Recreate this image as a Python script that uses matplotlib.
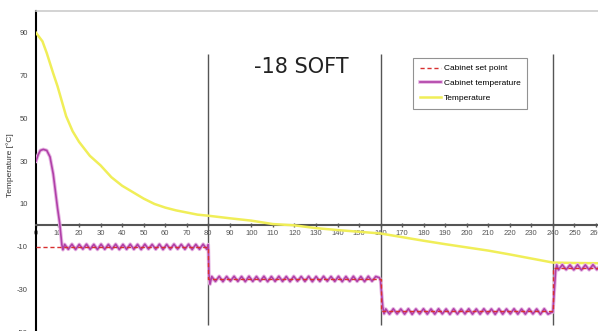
import numpy as np
import matplotlib
matplotlib.use("Agg")
from matplotlib import pyplot as plt
import matplotlib.patheffects as pe

# ambient / product temperature (yellow)
temp_t = [0, 3, 5, 8, 10, 12, 14, 17, 20, 25, 30, 35, 40, 45, 50, 55, 60, 65, 70, 75,
          80, 90, 100, 110, 120, 130, 140, 150, 160, 170, 180, 190, 200, 210, 220,
          230, 240, 250, 260, 270, 280]
temp_v = [90, 86, 80.5, 71, 65, 58, 51, 44, 39, 32.5, 28, 22.5, 18.5, 15.5, 12.5, 10,
          8.3, 7, 6, 5, 4.5, 3.3, 2.2, 0.6, 0, -1.3, -2.2, -3, -3.8, -5.5, -7.2, -8.8,
          -10.3, -11.8, -13.6, -15.5, -17.4, -17.6, -17.7, -17.8, -17.8]

# cabinet set point steps
set_t = [0, 80, 160, 240, 280]
set_v = [-10, -25, -40, -20, -20]

# cabinet temperature: pull-down, then cycling around each set point
pull_t = [0, 1, 2, 3.4, 5, 6.5, 8, 9, 10, 11, 12, 12.5]
pull_v = [30, 33, 35, 35.5, 35, 32, 24, 16, 8, 1, -9, -11.4]
seg1_v = [-8.9, -11.2, -8.8, -11.3, -8.9, -11.1, -8.8, -11.2, -8.9, -11.3,
          -8.8, -11.2, -8.9, -11.1, -8.8, -11.3, -8.9, -11.2, -8.8, -11.2,
          -8.9, -11.3, -8.8, -11.1, -8.9, -11.2, -8.8, -11.3, -8.9, -11.2,
          -8.8, -11.1, -8.9, -11.2, -8.8, -11.3, -8.9, -11.2, -8.8, -11.2]
step1_t = [80, 80.3, 80.8]
step1_v = [-9, -23, -27.5]
seg2_v = [-23.9, -26.2, -23.8, -26.3, -23.9, -26.1, -23.8, -26.2, -23.9, -26.3,
          -23.8, -26.2, -23.9, -26.1, -23.8, -26.3, -23.9, -26.2, -23.8, -26.2,
          -23.9, -26.3, -23.8, -26.1, -23.9, -26.2, -23.8, -26.3, -23.9, -26.2,
          -23.8, -26.1, -23.9, -26.2, -23.8, -26.3, -23.9, -26.2, -23.8, -26.2,
          -23.9, -26.3, -23.8, -26.1, -23.9, -24.5]
step2_t = [160, 160.5, 161, 161.6]
step2_v = [-26, -32, -38, -41.3]
seg3_v = [-39.1, -41.5, -39.0, -41.4, -39.1, -41.5, -39.0, -41.6, -39.1, -41.4,
          -39.0, -41.5, -39.1, -41.5, -39.0, -41.4, -39.1, -41.6, -39.0, -41.5,
          -39.1, -41.4, -39.0, -41.5, -39.1, -41.5, -39.0, -41.4, -39.1, -41.6,
          -39.0, -41.5, -39.1, -41.4, -39.0, -41.5, -39.1, -41.5, -39.0, -41.4,
          -39.1, -41.6, -39.0, -41.5, -40.6]
step3_t = [240, 240.7, 241.3, 241.8]
step3_v = [-40.5, -30, -21, -18.5]
seg4_v = [-20.8, -18.4, -20.7, -18.5, -20.8, -18.4, -20.9, -18.5, -20.8, -18.4,
          -20.7, -18.5, -20.8, -18.4, -20.9, -18.5, -20.8, -18.4, -20.7, -18.5,
          -20.8, -18.6]

cab_t = np.concatenate([pull_t, np.linspace(13.3, 79.3, len(seg1_v)), step1_t,
                        np.linspace(81.6, 159.5, len(seg2_v)), step2_t,
                        np.linspace(162.4, 239.5, len(seg3_v)), step3_t,
                        np.linspace(242.6, 280, len(seg4_v))])
cab_v = np.concatenate([pull_v, seg1_v, step1_v, seg2_v, step2_v, seg3_v, step3_v, seg4_v])

xticks = np.arange(0, 261, 10)
yticks = [-50, -30, -10, 10, 30, 50, 70, 90]
switch_t = [80, 160, 240]

small = 'Liberation Sans'

fig = plt.figure(figsize=(5.98, 3.31), dpi=100)
ax = fig.add_axes([36 / 598, -0.004, 603 / 598, 0.9696])
ax.set_xlim(0, 280)
ax.set_ylim(-50, 100)

ax.plot(temp_t, temp_v, color='#f0ee58', lw=1.8, label='Temperature', zorder=3)
ax.plot(cab_t, cab_v, color='#b040a8', lw=1.2, label='Cabinet temperature', zorder=4,
        path_effects=[pe.Stroke(linewidth=2.6, foreground='#e6b4e2'), pe.Normal()])
ax.plot(set_t, set_v, color='#d83030', lw=1, ls=(0, (3, 2)), drawstyle='steps-post',
        label='Cabinet set point', zorder=5)

ax.vlines(switch_t, -46.5, 80, color='#555555', lw=1, zorder=2)

ax.spines['bottom'].set_position(('data', 0))
ax.spines['bottom'].set_color('#555555')
ax.spines['bottom'].set_linewidth(1.5)
ax.spines['left'].set_color('black')
ax.spines['left'].set_linewidth(1.5)
ax.spines['top'].set_color('#cccccc')
ax.spines['top'].set_linewidth(1.2)
ax.spines['right'].set_visible(False)

ax.set_xticks(xticks)
ax.set_xticklabels([str(v) for v in xticks], fontsize=5.5, family=small, color='#555555')
ax.tick_params(axis='x', direction='inout', length=3, width=1, color='#555555', pad=2)
ax.set_yticks(yticks)
ax.set_yticklabels([str(v) for v in yticks], fontsize=5.5, family=small, color='#444444')
ax.tick_params(axis='y', length=0, pad=6)

fig.text(10 / 598, 1 - 165 / 331, 'Temperature [°C]', rotation=90, ha='center',
         va='center', fontsize=6, family=small, color='#333333')
fig.text(301 / 598, 1 - 67 / 331, '-18 SOFT', ha='center', va='center',
         fontsize=15, color='#222222')

handles, labels = ax.get_legend_handles_labels()
leg = fig.legend(handles[::-1], labels[::-1], loc='upper left',
                 bbox_to_anchor=(413 / 598, 1 - 58 / 331),
                 prop={'family': small, 'size': 6}, frameon=True, fancybox=False,
                 edgecolor='#777777', handlelength=2.6, handletextpad=0.3,
                 labelspacing=0.85, borderpad=0.8, borderaxespad=0)
leg.get_frame().set_linewidth(0.8)

fig.savefig('out.png', dpi=100)
